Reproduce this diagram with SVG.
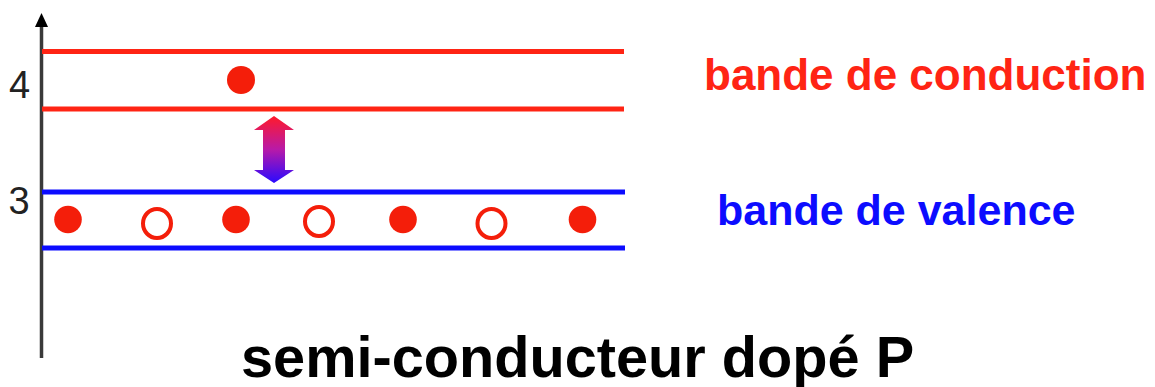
<svg xmlns="http://www.w3.org/2000/svg" width="1155" height="387" viewBox="0 0 1155 387">
  <style>
    .lbl { font-family: "Liberation Sans", Arial, sans-serif; }
    .num { font-size: 38px; fill: #222; }
    .band-name { font-size: 44px; font-weight: bold; }
    .title { font-size: 57.7px; font-weight: bold; fill: #000; }
    .cb { stroke: #ff2414; stroke-width: 5; }
    .vb { stroke: #0c0cff; stroke-width: 5; }
    .electron { fill: #f41e0a; }
    .hole { fill: none; stroke: #f41e0a; stroke-width: 4; }
  </style>
  <defs>
    <linearGradient id="gapGrad" x1="0" y1="0" x2="0" y2="1">
      <stop offset="0" stop-color="#ff1a2a"/>
      <stop offset="0.5" stop-color="#b81aa8"/>
      <stop offset="1" stop-color="#2a0aff"/>
    </linearGradient>
  </defs>
  <rect width="1155" height="387" fill="#ffffff"/>

  <!-- energy axis -->
  <g id="axis">
    <line x1="41.5" y1="26" x2="41.5" y2="358" stroke="#3a3a3a" stroke-width="3.5"/>
    <polygon points="41.5,13 35,27 48,27" fill="#000"/>
    <text class="lbl num" x="9" y="98">4</text>
    <text class="lbl num" x="8.5" y="214">3</text>
  </g>

  <!-- band edges -->
  <g id="conduction-band">
    <line class="cb" x1="42" y1="51.5" x2="624" y2="51.5"/>
    <line class="cb" x1="42" y1="109" x2="624" y2="109"/>
    <circle class="electron" cx="241" cy="80" r="14"/>
    <text class="lbl band-name" x="704" y="90" fill="#ff2414">bande de conduction</text>
  </g>

  <g id="valence-band">
    <line class="vb" x1="42" y1="192" x2="625" y2="192"/>
    <line class="vb" x1="42" y1="248" x2="625" y2="248"/>
    <circle class="electron" cx="68" cy="219.5" r="13.8"/>
    <circle class="electron" cx="236" cy="219.5" r="13.8"/>
    <circle class="electron" cx="403" cy="219.5" r="13.8"/>
    <circle class="electron" cx="582.5" cy="219.5" r="13.8"/>
    <ellipse class="hole" cx="157" cy="223.5" rx="14" ry="14.5"/>
    <ellipse class="hole" cx="319" cy="221.5" rx="14" ry="14.5"/>
    <ellipse class="hole" cx="491.5" cy="223.5" rx="14" ry="14.5"/>
    <text class="lbl band-name" x="717" y="225" fill="#0c0cff" style="font-size:43px">bande de valence</text>
  </g>

  <!-- gap transition arrow -->
  <g id="gap-arrow">
    <polygon points="274,116 294,130 285,130 285,170 294,170 274,183 254,170 263,170 263,130 254,130" fill="url(#gapGrad)"/>
  </g>

  <g id="title">
    <text class="lbl title" x="241" y="377">semi-conducteur dopé P</text>
  </g>
</svg>
